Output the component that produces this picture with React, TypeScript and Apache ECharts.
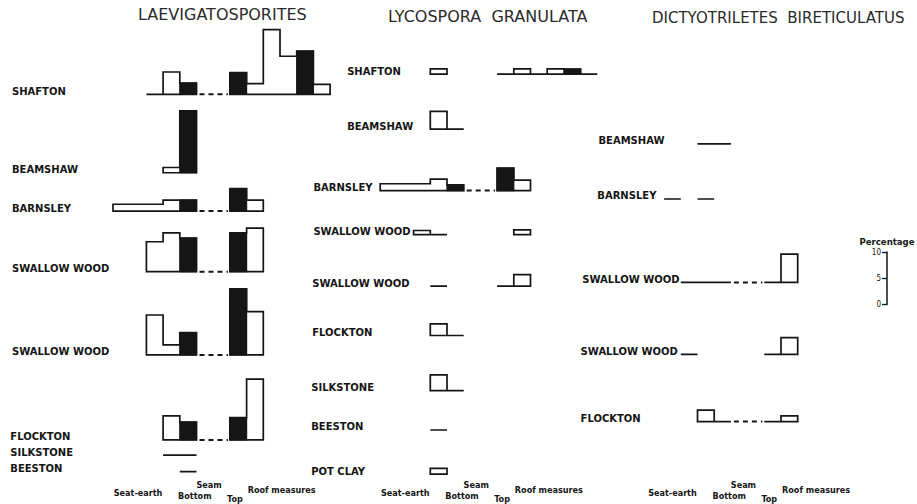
import React, { useEffect, useRef } from "react";
import * as echarts from "echarts";

const _ = null;

// ---------- text ----------
const PANEL_TITLES = ["LAEVIGATOSPORITES", "LYCOSPORA  GRANULATA", "DICTYOTRILETES  BIRETICULATUS"];
const STAGE_LABELS = ["Seat-earth", "Seam", "Bottom", "Top", "Roof measures"];

// ---------- data (percentages per sample slot; null = no sample) ----------
// slots: 0-4 seat-earth / seam bottom, 5-6 gap, 7.. seam top / roof measures
const LAEVI_SEAMS = ["SHAFTON", "BEAMSHAW", "BARNSLEY", "SWALLOW WOOD", "SWALLOW WOOD", "FLOCKTON", "SILKSTONE", "BEESTON"];
const LAEVI_VALUES: (number | null)[][] = [
  [_, _, 0, 4.25, 2.15, _, _, 4.15, 2.05, 12.3, 7.25, 8.25, 1.9],
  [_, _, _, 1.0, 11.8],
  [1.3, 1.3, 1.3, 2.1, 2.1, _, _, 4.3, 2.1],
  [_, _, 5.7, 7.4, 6.4, _, _, 7.4, 8.3],
  [_, _, 7.6, 1.9, 4.25, _, _, 12.6, 8.25],
  [_, _, _, 4.6, 3.4, _, _, 4.25, 11.6],
  [_, _, _, 0, 0],
  [_, _, _, _, 0],
];
const LAEVI_BLACK: number[][] = [[4, 7, 11], [4], [4, 7], [4, 7], [4, 7], [4, 7], [], []];

const LYCO_SEAMS = ["SHAFTON", "BEAMSHAW", "BARNSLEY", "SWALLOW WOOD", "SWALLOW WOOD", "FLOCKTON", "SILKSTONE", "BEESTON", "POT CLAY"];
const LYCO_VALUES: (number | null)[][] = [
  [_, _, _, 1.0],
  [_, _, _, 3.4, 0],
  [1.3, 1.3, 1.3, 2.2, 1.1, _, _, 4.3, 2.0],
  [_, _, 0.8, 0, _, _, _, _, 0.9],
  [_, _, _, 0, _, _, _, 0, 2.2],
  [_, _, _, 2.2, 0],
  [_, _, _, 3.0, 0],
  [_, _, _, 0],
  [_, _, _, 1.1],
];
const LYCO_ROOF_SHAFTON: (number | null)[] = [_, _, _, _, _, _, _, 0, 1.0, 0, 1.0, 0.95, 0];
const LYCO_BLACK: number[][] = [[11], [], [4, 7], [], [], [], [], [], []];

const DICTY_SEAMS = ["BEAMSHAW", "BARNSLEY", "SWALLOW WOOD", "SWALLOW WOOD", "FLOCKTON"];
const DICTY_VALUES: (number | null)[][] = [
  [_, _, _, 0, 0],
  [_, 0, _, 0],
  [_, _, 0, 0, 0, _, _, 0, 5.4],
  [_, _, 0, _, _, _, _, 0, 3.2],
  [_, _, _, 2.2, 0, _, _, 0, 1.1],
];
const DICTY_BLACK: number[][] = [[], [], [], [], []];

const SCALE_TICKS = [0, 5, 10];

// ---------- layout ----------
const PANEL_ORIGIN = [0, 16, 32]; // in slot units
const LAEVI_BASE = [17.96, 32.9, 40.2, 51.75, 67.6, 83.8, 86.7, 89.85];
const LAEVI_LABEL_X = [-6.05, -6.05, -6.05, -6.05, -6.05, -6.15, -6.15, -6.15];
const LYCO_BASE = [14.1, 24.6, 36.3, 44.7, 54.5, 63.9, 74.4, 81.9, 90.3];
const LYCO_LABEL_X = [-1.98, -1.98, -4.0, -4.0, -4.07, -4.07, -4.13, -4.13, -4.13];
const DICTY_BASE = [27.4, 37.9, 53.8, 67.5, 80.3];
const DICTY_LABEL_X = [-2.93, -3.0, -3.9, -4.0, -4.0];
const STAGE_X = [1.5, 5.75, 4.9, 7.3, 10.1];
const STAGE_Y = [93.9, 92.4, 94.5, 95.0, 93.3];
const TITLE_LEFT = [138, 388, 652];
const TITLE_TOP = [6, 8, 10];
const TITLE_SIZE = [16, 16, 15];

const INK = "#151515";
const LABEL_FONT = 'bold 10px "DejaVu Sans"';
const STAGE_FONT = 'bold 9px "DejaVu Sans Condensed"';

function makeRowRender(
  panel: number,
  names: string[],
  values: (number | null)[][],
  black: number[][],
  base: number[],
  labelX: number[],
  extra?: { [k: number]: (number | null)[] }
) {
  return (params: any, api: any) => {
    const i = params.dataIndex;
    const x0 = PANEL_ORIGIN[panel];
    const b = base[i];
    const P = (x: number, y: number) => api.coord([x, y]);
    const children: any[] = [];
    const lp = P(x0 + labelX[i], b);
    children.push({
      type: "text",
      x: lp[0],
      y: lp[1] - 3,
      style: { text: names[i], fill: INK, font: LABEL_FONT, align: "left", verticalAlign: "middle" },
    });
    const rows: (number | null)[][] = [values[i]];
    if (extra && extra[i]) rows.push(extra[i]);
    rows.forEach((row) => {
      let s = 0;
      while (s < row.length) {
        if (row[s] == null) {
          s++;
          continue;
        }
        let e = s;
        while (e + 1 < row.length && row[e + 1] != null) e++;
        const pts: number[][] = [P(x0 + s, b)];
        for (let k = s; k <= e; k++) {
          pts.push(P(x0 + k, b - (row[k] as number)));
          pts.push(P(x0 + k + 1, b - (row[k] as number)));
        }
        pts.push(P(x0 + e + 1, b));
        children.push({
          type: "polygon",
          shape: { points: pts },
          style: { fill: "#fff", stroke: INK, lineWidth: 1.7, lineJoin: "miter" },
        });
        s = e + 1;
      }
    });
    const merged: (number | null)[] = [];
    rows.forEach((row) => row.forEach((v, k) => { if (v != null) merged[k] = v; }));
    black[i].forEach((k) => {
      const v = merged[k];
      if (v == null) return;
      const tl = P(x0 + k, b - v);
      const br = P(x0 + k + 1, b);
      children.push({
        type: "rect",
        shape: { x: tl[0], y: tl[1], width: br[0] - tl[0], height: br[1] - tl[1] },
        style: { fill: INK, stroke: INK, lineWidth: 1.2 },
      });
    });
    if (merged[4] != null && merged[7] != null) {
      const a = P(x0 + 5, b);
      const c = P(x0 + 7, b);
      children.push({
        type: "line",
        shape: { x1: a[0] + 3, y1: a[1], x2: c[0] - 2, y2: c[1] },
        style: { stroke: INK, lineWidth: 2, lineDash: [5, 4] },
      });
    }
    return { type: "group", children };
  };
}

export default function App() {
  const ref = useRef<HTMLDivElement>(null);
  useEffect(() => {
    if (!ref.current) return;
    const chart = echarts.init(ref.current, undefined, { renderer: "svg" });
    const rowSeries = (
      panel: number,
      names: string[],
      values: (number | null)[][],
      black: number[][],
      base: number[],
      labelX: number[],
      extra?: { [k: number]: (number | null)[] }
    ) => ({
      type: "custom",
      xAxisIndex: 0,
      yAxisIndex: 0,
      clip: false,
      silent: true,
      data: names.map((_n, i) => [PANEL_ORIGIN[panel], base[i]]),
      renderItem: makeRowRender(panel, names, values, black, base, labelX, extra),
    });
    const stageData: number[][] = [];
    PANEL_ORIGIN.forEach((o) => STAGE_LABELS.forEach((_l, j) => stageData.push([o + STAGE_X[j], STAGE_Y[j], j])));
    chart.setOption({
      animation: false,
      backgroundColor: "#ffffff",
      title: PANEL_TITLES.map((t, i) => ({
        text: t,
        left: TITLE_LEFT[i],
        top: TITLE_TOP[i],
        padding: 0,
        textStyle: { fontFamily: "DejaVu Sans", fontWeight: "normal", fontSize: TITLE_SIZE[i], color: "#2a2a2a" },
      })),
      grid: [
        { left: 113, top: 0, width: 48 * 16.7, height: 504 },
        { left: 887, top: 252, width: 10, height: 52.5 },
      ],
      xAxis: [
        { gridIndex: 0, type: "value", min: 0, max: 48, show: false },
        { gridIndex: 1, type: "value", min: 0, max: 1, show: false },
      ],
      yAxis: [
        { gridIndex: 0, type: "value", min: 0, max: 96, inverse: true, show: false },
        {
          gridIndex: 1,
          type: "value",
          min: SCALE_TICKS[0],
          max: SCALE_TICKS[SCALE_TICKS.length - 1],
          interval: 5,
          position: "left",
          name: "Percentage",
          nameLocation: "end",
          nameGap: 6,
          nameTextStyle: { fontFamily: "DejaVu Sans Condensed", fontWeight: "bold", fontSize: 9.5, color: INK },
          axisLine: { show: true, lineStyle: { color: INK, width: 1.5 } },
          axisTick: { show: true, length: 5, inside: false, lineStyle: { color: INK, width: 1.3 } },
          axisLabel: { fontSize: 8, color: INK, margin: 6, fontFamily: "DejaVu Sans Condensed" },
          splitLine: { show: false },
        },
      ],
      series: [
        rowSeries(0, LAEVI_SEAMS, LAEVI_VALUES, LAEVI_BLACK, LAEVI_BASE, LAEVI_LABEL_X),
        rowSeries(1, LYCO_SEAMS, LYCO_VALUES, LYCO_BLACK, LYCO_BASE, LYCO_LABEL_X, { 0: LYCO_ROOF_SHAFTON }),
        rowSeries(2, DICTY_SEAMS, DICTY_VALUES, DICTY_BLACK, DICTY_BASE, DICTY_LABEL_X),
        {
          type: "custom",
          xAxisIndex: 0,
          yAxisIndex: 0,
          clip: false,
          silent: true,
          data: stageData,
          renderItem: (params: any, api: any) => {
            const p = api.coord([api.value(0), api.value(1)]);
            const j = api.value(2);
            return {
              type: "text",
              x: p[0],
              y: p[1],
              style: { text: STAGE_LABELS[j], fill: INK, font: STAGE_FONT, align: "center", verticalAlign: "middle" },
            };
          },
        },
      ],
    });
    return () => chart.dispose();
  }, []);
  return (
    <div
      ref={ref}
      style={{ position: "absolute", left: 0, top: 0, width: 917, height: 504, background: "#fff" }}
    />
  );
}
